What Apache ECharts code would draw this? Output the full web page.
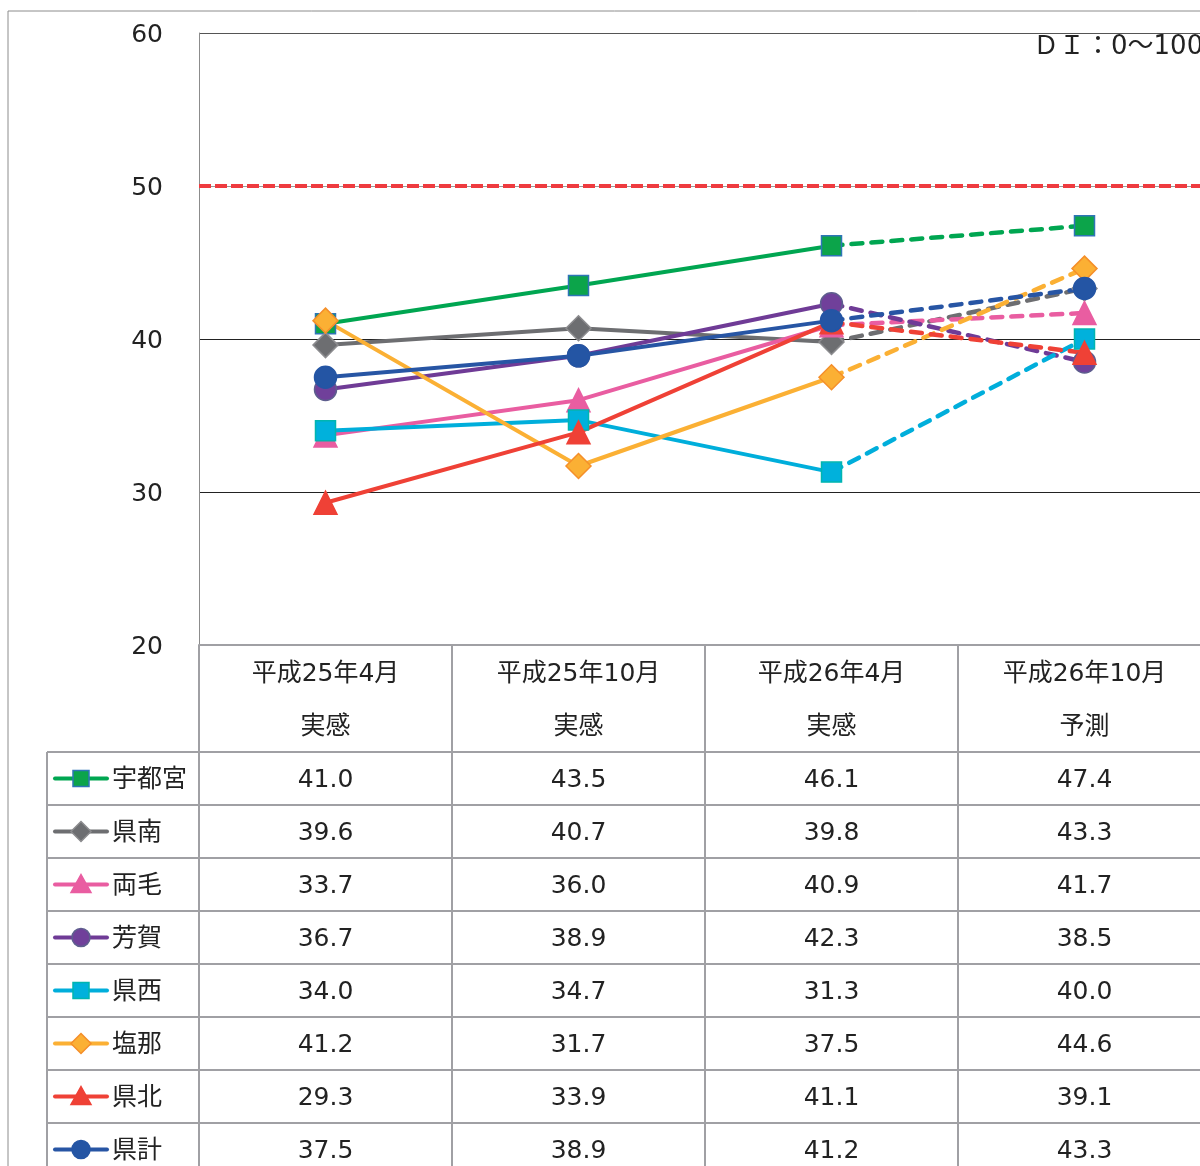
<!DOCTYPE html>
<html>
<head>
<meta charset="utf-8">
<script src="https://cdn.jsdelivr.net/npm/echarts@6/dist/echarts.min.js"></script>
<style>
  html, body { margin: 0; padding: 0; overflow: hidden; background: #fff; }
  #chart { width: 1220px; height: 1166px; }
</style>
</head>
<body>
<div id="chart"></div>
<script>
// 期間と区分
const categories = ["平成25年4月", "平成25年10月", "平成26年4月", "平成26年10月"];
const kinds = ["実感", "実感", "実感", "予測"];

// 地域別DI
const utsunomiya = [41.0, 43.5, 46.1, 47.4];
const kennan = [39.6, 40.7, 39.8, 43.3];
const ryomo = [33.7, 36.0, 40.9, 41.7];
const haga = [36.7, 38.9, 42.3, 38.5];
const kensei = [34.0, 34.7, 31.3, 40.0];
const enna = [41.2, 31.7, 37.5, 44.6];
const kenpoku = [29.3, 33.9, 41.1, 39.1];
const kenkei = [37.5, 38.9, 41.2, 43.3];

const yTicks = [20, 30, 40, 50, 60];
const baseLine = 50;

const FONT = "'DejaVu Sans', 'Noto Sans CJK JP', sans-serif";

const regions = [
  { name: "宇都宮", data: utsunomiya, color: "#00a651", symbol: "rect", size: 20, fill: "#0ca44a", border: "#2e75b6" },
  { name: "県南", data: kennan, color: "#6d6e71", symbol: "diamond", size: 25, fill: "#6d6e71", border: "#8c8c8f" },
  { name: "両毛", data: ryomo, color: "#e95da1", symbol: "triangle", size: 23, fill: "#e95da1", border: "#e95da1" },
  { name: "芳賀", data: haga, color: "#6f3b96", symbol: "circle", size: 22, fill: "#70409a", border: "#5e5e8e" },
  { name: "県西", data: kensei, color: "#00aedb", symbol: "rect", size: 20, fill: "#00b1dc", border: "#00b5b0" },
  { name: "塩那", data: enna, color: "#fbb034", symbol: "diamond", size: 25, fill: "#fbb034", border: "#f58f2a" },
  { name: "県北", data: kenpoku, color: "#ef4136", symbol: "triangle", size: 23, fill: "#ef4136", border: "#ef4136" },
  { name: "県計", data: kenkei, color: "#2755a4", symbol: "circle", size: 22, fill: "#2455a4", border: "#2455a4" },
];

const chart = echarts.init(document.getElementById("chart"));

const series = [];
regions.forEach((r, idx) => {
  // 実感（実線）
  series.push({
    name: r.name,
    type: "line",
    data: r.data.map((v, i) => (i < 3 ? v : "-")),
    symbol: r.symbol,
    symbolSize: r.size,
    lineStyle: { color: r.color, width: 4 },
    itemStyle: { color: r.fill, borderColor: r.border, borderWidth: 1.5 },
    showAllSymbol: true,
    silent: true,
    markLine: idx === 0 ? {
      symbol: "none",
      silent: true,
      label: { show: false },
      lineStyle: { color: "#ef3b3f", width: 4, type: [12, 4] },
      data: [{ yAxis: baseLine }],
    } : undefined,
  });
  // 予測（破線）
  series.push({
    name: r.name + "予測",
    type: "line",
    data: r.data.map((v, i) => (i < 2 ? "-" : i === 2 ? { value: v, symbol: "none" } : v)),
    symbol: r.symbol,
    symbolSize: r.size,
    lineStyle: { color: r.color, width: 4.5, type: [11, 9], cap: "round" },
    itemStyle: { color: r.fill, borderColor: r.border, borderWidth: 1.5 },
    showAllSymbol: true,
    silent: true,
  });
});

const option = {
  animation: false,
  grid: { left: 199, right: 9, top: 33, bottom: 521 },
  xAxis: {
    type: "category",
    data: categories,
    boundaryGap: true,
    axisTick: { show: false },
    axisLine: { show: true, lineStyle: { color: "#a0a0a4", width: 2 } },
    axisLabel: {
      margin: 3,
      fontSize: 25,
      lineHeight: 53,
      color: "#222",
      fontFamily: FONT,
      formatter: (v, i) => v + "\n" + kinds[i],
    },
  },
  yAxis: {
    type: "value",
    min: yTicks[0],
    max: yTicks[yTicks.length - 1],
    interval: 10,
    axisLine: { show: true, lineStyle: { color: "#8c8c8c", width: 1 } },
    axisTick: { show: false },
    axisLabel: {
      margin: 36,
      formatter: (v) => "{v|" + v + "}",
      rich: { v: { fontSize: 25, color: "#222", fontFamily: FONT, padding: [4, 0, 0, 0] } },
    },
    splitLine: {
      lineStyle: { color: ["#a0a0a4", "#222", "#222", "#999", "#555"], width: 1 },
    },
  },
  series: series,
};

chart.setOption(option);

// データテーブル
const colX = categories.map((c) => chart.convertToPixel({ xAxisIndex: 0 }, c));
const half = (colX[1] - colX[0]) / 2;
const headTop = 645;
const rowTop = 752;
const rowH = 53;
const legendLeft = 47;
const plotLeft = 199;
const tableBottom = 1166;
const lineColor = "#a0a0a4";

const graphics = [];
graphics.push({
  type: "rect",
  silent: true,
  shape: { x: 8, y: 11, width: 1400, height: 1400 },
  style: { fill: null, stroke: "#8c8c8c", lineWidth: 1 },
});
graphics.push({
  type: "text",
  silent: true,
  style: { text: "ＤＩ：0～100", x: 1033, y: 47, verticalAlign: "middle", font: "26px " + FONT, fill: "#222" },
});

function hLine(x1, x2, y) {
  graphics.push({ type: "line", silent: true, shape: { x1, y1: y, x2, y2: y }, style: { stroke: lineColor, lineWidth: 2 } });
}
function vLine(x, y1, y2) {
  graphics.push({ type: "line", silent: true, shape: { x1: x, y1, x2: x, y2 }, style: { stroke: lineColor, lineWidth: 2 } });
}

for (let k = 0; k <= regions.length; k++) hLine(legendLeft, 1220, rowTop + rowH * k);
vLine(legendLeft, rowTop, tableBottom);
vLine(plotLeft, headTop, tableBottom);
colX.forEach((x) => vLine(x + half, headTop, tableBottom));

function marker(r, cx, cy) {
  const st = { fill: r.fill, stroke: r.border, lineWidth: 1.5 };
  if (r.symbol === "rect") return { type: "rect", silent: true, shape: { x: cx - 8, y: cy - 8, width: 16, height: 16 }, style: st };
  if (r.symbol === "circle") return { type: "circle", silent: true, shape: { cx, cy, r: 9 }, style: st };
  if (r.symbol === "triangle")
    return { type: "polygon", silent: true, shape: { points: [[cx, cy - 10], [cx + 10, cy + 8], [cx - 10, cy + 8]] }, style: st };
  return { type: "polygon", silent: true, shape: { points: [[cx, cy - 10], [cx + 10, cy], [cx, cy + 10], [cx - 10, cy]] }, style: st };
}

regions.forEach((r, i) => {
  const cy = rowTop + rowH * i + rowH / 2;
  graphics.push({
    type: "line",
    silent: true,
    shape: { x1: 55, y1: cy, x2: 107, y2: cy },
    style: { stroke: r.color, lineWidth: 4, lineCap: "round" },
  });
  graphics.push(marker(r, 81, cy));
  graphics.push({
    type: "text",
    silent: true,
    style: { text: r.name, x: 112, y: cy + 2, verticalAlign: "middle", font: "25px " + FONT, fill: "#222" },
  });
  r.data.forEach((v, j) => {
    graphics.push({
      type: "text",
      silent: true,
      style: { text: v.toFixed(1), x: colX[j], y: cy + 2, align: "center", verticalAlign: "middle", font: "25px " + FONT, fill: "#222" },
    });
  });
});

chart.setOption({ graphic: graphics });
</script>
</body>
</html>
